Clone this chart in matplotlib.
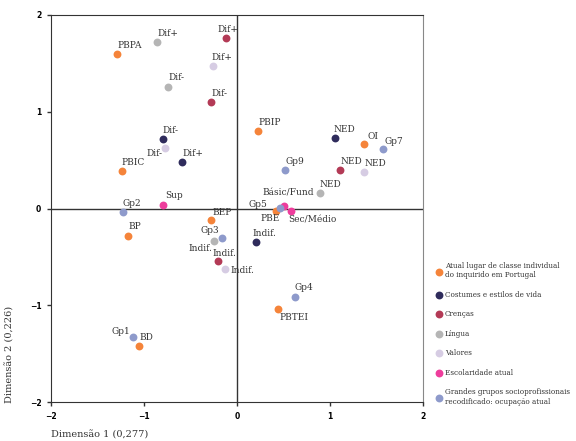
import matplotlib
matplotlib.use('Agg')
import matplotlib.pyplot as plt

# ---- data ----
classe_lab = ['PBPA', 'PBIP', 'PBIC', 'OI', 'BEP', 'BP', 'PBE', 'PBTEI', 'BD']
classe_x = [-1.29, 0.23, -1.24, 1.37, -0.28, -1.17, 0.42, 0.44, -1.05]
classe_y = [1.60, 0.80, 0.39, 0.67, -0.12, -0.28, -0.03, -1.04, -1.42]

costumes_lab = ['NED', 'Dif-', 'Dif+', 'Indif.']
costumes_x = [1.05, -0.80, -0.59, 0.20]
costumes_y = [0.73, 0.72, 0.48, -0.35]

crencas_lab = ['Dif+', 'Dif-', 'NED', 'Indif.']
crencas_x = [-0.12, -0.28, 1.11, -0.20]
crencas_y = [1.76, 1.10, 0.40, -0.54]

lingua_lab = ['Dif+', 'Dif-', 'NED', 'Indif.']
lingua_x = [-0.86, -0.74, 0.89, -0.25]
lingua_y = [1.72, 1.26, 0.16, -0.34]

valores_lab = ['Dif+', 'Dif-', 'NED', 'Indif.']
valores_x = [-0.26, -0.77, 1.37, -0.13]
valores_y = [1.47, 0.63, 0.38, -0.63]

escol_lab = ['Sup', 'Básic/Fund', 'Sec/Médio']
escol_x = [-0.80, 0.51, 0.58]
escol_y = [0.04, 0.03, -0.03]

grupos_lab = ['Gp2', 'Gp9', 'Gp7', 'Gp5', 'Gp3', 'Gp4', 'Gp1']
grupos_x = [-1.23, 0.52, 1.57, 0.46, -0.16, 0.62, -1.12]
grupos_y = [-0.04, 0.40, 0.62, 0.01, -0.30, -0.91, -1.33]

series_names = ['Atual lugar de classe individual\ndo inquirido em Portugal',
                'Costumes e estilos de vida', 'Crenças', 'Língua', 'Valores',
                'Escolaridade atual',
                'Grandes grupos socioprofissionais\nrecodificado: ocupação atual']

series = [(classe_lab, classe_x, classe_y),
          (costumes_lab, costumes_x, costumes_y),
          (crencas_lab, crencas_x, crencas_y),
          (lingua_lab, lingua_x, lingua_y),
          (valores_lab, valores_x, valores_y),
          (escol_lab, escol_x, escol_y),
          (grupos_lab, grupos_x, grupos_y)]

colors = ['#F5843A', '#2F2C5C', '#B33A56', '#B5B5B5', '#D6CCE3', '#EE3D9C', '#8E9ACB']

# label placement tweaks: (series, index) -> (dx, dy, ha, va) in points
default_off = (0, 3, 'left', 'bottom')
offsets = {
    (0, 3): (2, 2, 'left', 'bottom'),
    (0, 4): (1, 2, 'left', 'bottom'),
    (0, 6): (-4, -2, 'center', 'top'),
    (0, 7): (1, -3, 'left', 'top'),
    (1, 0): (-1, 3, 'left', 'bottom'),
    (1, 3): (-2, 3, 'left', 'bottom'),
    (2, 0): (-6, 3, 'left', 'bottom'),
    (2, 3): (-4, 2, 'left', 'bottom'),
    (3, 3): (-1, -2, 'right', 'top'),
    (4, 0): (-1, 3, 'left', 'bottom'),
    (4, 1): (-2, -1, 'right', 'top'),
    (4, 3): (4, -1, 'left', 'center'),
    (5, 0): (2, 3, 'left', 'bottom'),
    (5, 1): (3, 6, 'center', 'bottom'),
    (5, 2): (-2, -3, 'left', 'top'),
    (6, 2): (1, 2, 'left', 'bottom'),
    (6, 3): (-9, 2, 'right', 'center'),
    (6, 4): (-2, 2, 'right', 'bottom'),
    (6, 6): (-2, 1, 'right', 'bottom'),
}

fig = plt.figure(figsize=(5.76, 4.41), dpi=100)
ax = fig.add_axes([51/576, 1-402/441, (423-51)/576, (402-15)/441])

ax.axhline(0, color='#333333', lw=1, zorder=1)
ax.axvline(0, color='#333333', lw=1, zorder=1)

for k, (labs, xs, ys) in enumerate(series):
    ax.scatter(xs, ys, s=32, color=colors[k], label=series_names[k], zorder=3, linewidths=0)
    for i, lab in enumerate(labs):
        dx, dy, ha, va = offsets.get((k, i), default_off)
        ax.annotate(lab, (xs[i], ys[i]), xytext=(dx, dy), textcoords='offset points',
                    ha=ha, va=va, fontsize=6.5, family='DejaVu Serif', color='#333333')

ax.set_xlim(-2, 2)
ax.set_ylim(-2, 2)
ax.set_xticks([-2, -1, 0, 1, 2])
ax.set_yticks([-2, -1, 0, 1, 2])
ax.tick_params(labelsize=5.5, length=3, width=1, color='#333333', pad=4)
for t in ax.get_xticklabels() + ax.get_yticklabels():
    t.set_fontweight('bold')
for s in ['left', 'bottom', 'top']:
    ax.spines[s].set_color('#333333')
ax.spines['right'].set_color('#888888')

fig.text(51/576, 6/441, 'Dimensão 1 (0,277)', ha='left', va='center',
         fontsize=7, family='DejaVu Serif', color='#333333')
fig.text(10/576, 1-403/441, 'Dimensão 2 (0,226)', ha='center', va='bottom',
         rotation=90, fontsize=7, family='DejaVu Serif', color='#333333')

leg = ax.legend(loc='upper left', bbox_to_anchor=(431/576, 1-259/441),
                bbox_transform=fig.transFigure, frameon=False,
                prop={'family': 'DejaVu Serif', 'size': 5.2},
                handletextpad=0.2, labelspacing=1.6, borderaxespad=0,
                handlelength=1.3, markerscale=1.0)
for t in leg.get_texts():
    t.set_color('#333333')

fig.savefig('out.png', dpi=100)
